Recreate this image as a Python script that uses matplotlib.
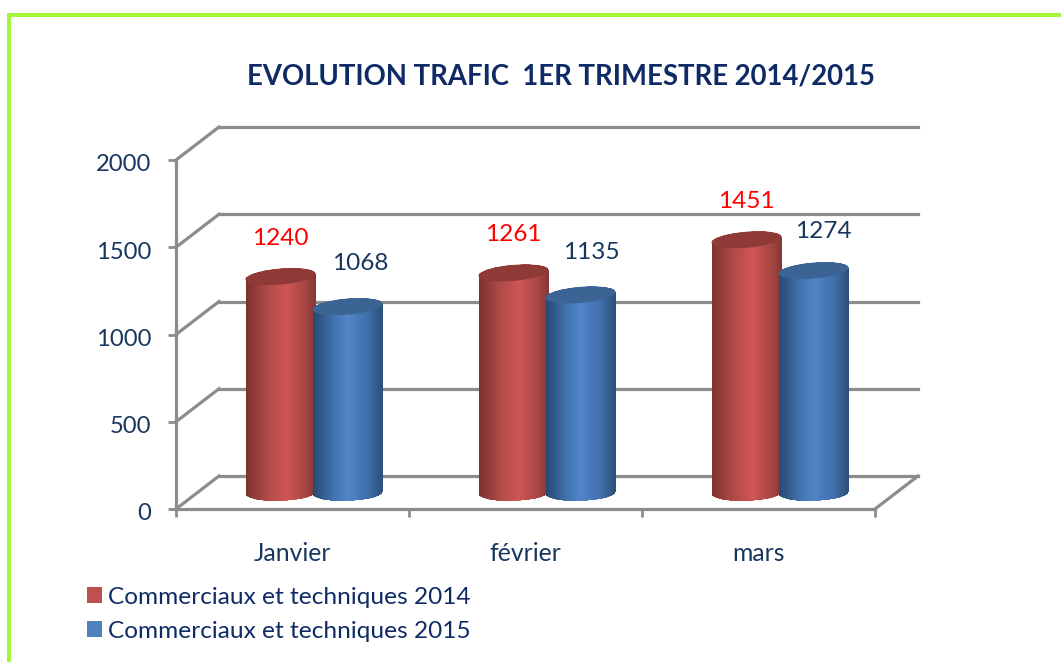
import numpy as np
import matplotlib
matplotlib.use('Agg')
import matplotlib.pyplot as plt
from matplotlib.colors import LinearSegmentedColormap
from matplotlib.patches import Patch, PathPatch, Rectangle
from matplotlib.path import Path
from matplotlib.transforms import ScaledTranslation

#chart data
months = ['Janvier', 'février', 'mars']
values_2014 = [1240, 1261, 1451]
values_2015 = [1068, 1135, 1274]
y_ticks = [0, 500, 1000, 1500, 2000]
series_names = ['Commerciaux et techniques 2014', 'Commerciaux et techniques 2015']

W, H = 1061, 662
plt.rcParams['font.family'] = ['Lato', 'DejaVu Sans']
NAVY = '#17375e'
GREY = '#8c8c8c'

fig = plt.figure(figsize=(W / 100, H / 100), dpi=100)
fig.patch.set_facecolor('white')

#axes box is the front plane of the fake 3d chart
left, right, bottom, top = 176, 875, 509, 160
ax = fig.add_axes([left / W, 1 - bottom / H, (right - left) / W, (bottom - top) / H])
ax.patch.set_alpha(0)
px_x = 3 / (right - left)
px_y = 2000 / (bottom - top)

#back wall and floor diagonals
dx, dy = 43 * px_x, 33 * px_y
for v in y_ticks:
    ax.plot([0, dx], [v, v + dy], color=GREY, lw=2.3, clip_on=False, zorder=1)
    ax.plot([dx, 3 + dx], [v + dy, v + dy], color=GREY, lw=2.3, clip_on=False, zorder=1)
ax.plot([3, 3 + dx], [0, dy], color=GREY, lw=2.3, clip_on=False, zorder=1)

def ellipse(xc, yc, ry, slope):
    t = np.linspace(0, 2 * np.pi, 120)
    x = xc + 35 * px_x * np.cos(t)
    y = yc + ry * px_y * np.sin(t) + slope * (x - xc) / px_x * px_y
    return x, y

def cylinder(xc, value, cmap, cap_color, z):
    base = 92
    xb, yb = ellipse(xc, base, 8, 0.03)
    xt, yt = ellipse(xc, base + value, 8, 0.08)
    #body outline = lower half of the base + upper half of the top
    low = np.arange(60, 120)
    up = np.arange(0, 60)
    verts = np.vstack([np.column_stack([xb[low], yb[low]]), np.column_stack([xt[up], yt[up]])])
    body = PathPatch(Path(np.vstack([verts, verts[0]]), closed=True), transform=ax.transData, fc='none', ec='none')
    ax.add_patch(body)
    xs = np.linspace(xc - 35 * px_x, xc + 35 * px_x, 71)
    grad = np.linspace(0, 1, 70).reshape(1, -1)
    mesh = ax.pcolormesh(xs, [-100, base + value + 100], grad, cmap=cmap, shading='flat', zorder=z)
    mesh.set_clip_path(body)
    ax.fill(xt, yt, color=cap_color, lw=0, zorder=z + 0.1, clip_on=False)

reds = LinearSegmentedColormap.from_list('reds', [(0, '#7b3330'), (0.3, '#b04a47'), (0.58, '#cf5653'), (0.85, '#a84643'), (1, '#853835')])
blues = LinearSegmentedColormap.from_list('blues', [(0, '#274a73'), (0.3, '#4273b0'), (0.5, '#5085c8'), (0.8, '#3f6ea8'), (1, '#2b4f79')])

centers = [0.5 + 22 * px_x + i for i in range(3)]
red_shift, blue_shift = -34 * px_x, 33 * px_x

#label offsets from the bar top, in pixels
blue_offsets = [(13, 43), (11, 42), (10, 39)]
for i in range(3):
    cylinder(centers[i] + red_shift, values_2014[i], reds, '#8f3a37', 3)
    cylinder(centers[i] + blue_shift, values_2015[i], blues, '#3b6494', 4)
    ax.annotate(str(values_2014[i]), (centers[i] + red_shift, values_2014[i] + 92), xytext=(0, 38 * 0.72),
                textcoords='offset points', ha='center', va='center', color='#ff0000', fontsize=17.6, zorder=6)
    ox, oy = blue_offsets[i]
    ax.annotate(str(values_2015[i]), (centers[i] + blue_shift, values_2015[i] + 92), xytext=(ox * 0.72, oy * 0.72),
                textcoords='offset points', ha='center', va='center', color=NAVY, fontsize=17.6, zorder=6)

ax.set_xlim(0, 3)
ax.set_ylim(0, 2000)
ax.set_yticks(y_ticks)
ax.set_xticks([0.5, 1.5, 2.5])
ax.set_xticklabels(months)
ax.set_xticks([0, 1, 2, 3], minor=True)
ax.tick_params(axis='y', length=5.8, width=2, color=GREY, labelcolor=NAVY, labelsize=17.1, pad=12)
ax.tick_params(axis='x', which='major', length=0, labelcolor=NAVY, labelsize=17.8, pad=24)
ax.tick_params(axis='x', which='minor', length=5.8, width=2, color=GREY)
for lab in ax.get_yticklabels():
    lab.set_transform(lab.get_transform() + ScaledTranslation(0, -2 / 72, fig.dpi_scale_trans))
for s in ['top', 'right']:
    ax.spines[s].set_visible(False)
for s in ['left', 'bottom']:
    ax.spines[s].set_color(GREY)
    ax.spines[s].set_linewidth(2.3)

fig.text(561 / W, 1 - 77 / H, 'EVOLUTION TRAFIC  1ER TRIMESTRE 2014/2015', ha='center', va='center',
         fontsize=19.8, fontweight='bold', color='#0f2b66')

handles = [Patch(fc='#c0504d', ec='none'), Patch(fc='#4f81bd', ec='none')]
fig.legend(handles, series_names, loc='lower left', bbox_to_anchor=(87 / W, 1 - 641.5 / H), frameon=False,
           fontsize=17.55, labelcolor='#0f2b66', handlelength=0.61, handleheight=0.61, handletextpad=0.24,
           labelspacing=0.53, borderpad=0, borderaxespad=0)

#green frame, only top and left reach into the picture
fig.add_artist(Rectangle((7 / W, 0), 4 / W, 1 - 13 / H, transform=fig.transFigure, fc='#a3f53c', ec='none'))
fig.add_artist(Rectangle((7 / W, 1 - 17 / H), 1 - 7 / W, 4 / H, transform=fig.transFigure, fc='#a3f53c', ec='none'))

fig.savefig('out.png', dpi=100)
